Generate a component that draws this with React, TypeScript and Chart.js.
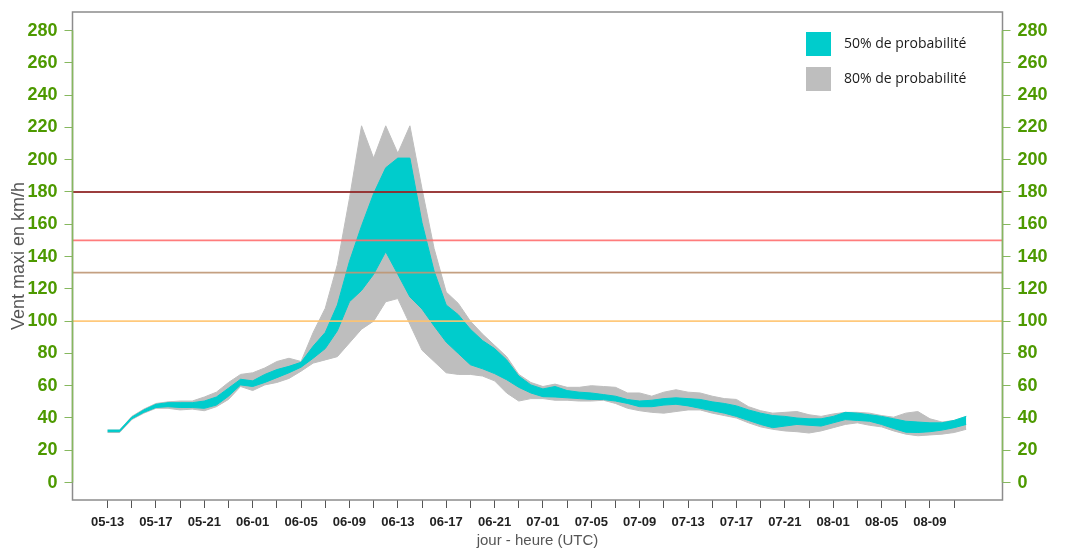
import React, { useEffect, useRef } from 'react';
import { Chart, registerables } from 'chart.js';

Chart.register(...registerables);

// ---- data ----
const X_LABELS = [
  '05-13', '05-17', '05-21', '06-01', '06-05', '06-09', '06-13', '06-17', '06-21',
  '07-01', '07-05', '07-09', '07-13', '07-17', '07-21', '08-01', '08-05', '08-09',
];
const Y_TICKS = [0, 20, 40, 60, 80, 100, 120, 140, 160, 180, 200, 220, 240, 260, 280];

// hourly values, starting at 05-13
const P90 = [
  32.5, 32.5, 41, 45.5, 49, 50, 50.5, 50.5, 53, 56,
  62, 67, 68, 71, 75, 77, 75, 93, 108, 135,
  176, 221, 201, 221, 204, 221, 182, 145, 118, 111,
  100, 92, 85, 78, 67, 62, 59.5, 61, 59, 59,
  60, 59.5, 59, 55.5, 55.5, 53.5, 56, 57.5, 56, 55.5,
  53.5, 52, 51.5, 47, 44.5, 43, 43.5, 44, 42, 41,
  42.5, 43.5, 43.5, 43, 41.5, 40.5, 43, 44, 39.5, 37.5,
  38.5, 41,
];
const P75 = [
  32.5, 32.5, 40.5, 45, 48.5, 49.5, 49.5, 49.5, 50.5, 53,
  58.5, 64, 63, 67, 70, 72, 74.5, 84.5, 93, 110,
  137, 159, 179, 195, 201, 201, 161, 131, 110, 104,
  95, 88, 83, 76, 66, 60.5, 58, 59.5, 57, 56,
  55.5, 54.5, 53.5, 51.4, 50.5, 51, 52, 52.5, 52, 51.5,
  50, 49, 47.5, 45, 43, 41.5, 41, 40, 39.5, 39.5,
  41, 43.5, 43, 42, 41, 39.5, 38, 37.5, 37, 37,
  38.5, 41,
];
const P25 = [
  31.5, 31.5, 39.5, 43.5, 46.5, 47, 46.5, 46.5, 46, 48,
  53.5, 60.5, 59.5, 62, 65, 68, 71.5, 77, 83, 94,
  112, 119, 129, 143, 129, 115, 107.5, 97, 87, 80,
  73, 70.5, 67.5, 63.7, 59, 55.5, 53.2, 53, 52.5, 52,
  51.5, 51.4, 50.5, 49, 47, 47, 48, 48.5, 47.5, 46,
  44.5, 43, 41, 38.5, 36, 34, 35, 36, 35.5, 35,
  37, 39, 38.5, 38, 36, 33.5, 31.2, 31, 31.5, 32.5,
  34, 36,
];
const P10 = [
  31, 31, 39, 43, 46, 46, 45, 45.5, 44.5, 47,
  51.5, 59.5, 57, 60.5, 62, 64.5, 69, 74, 76, 78,
  86.5, 95, 100, 112, 114, 98, 82, 75, 68, 67,
  67, 66, 63, 55.5, 50.5, 52, 52, 51, 51, 50.5,
  50.5, 51, 49, 46, 44.5, 43.5, 43, 44, 45, 45,
  43, 41.5, 40, 37, 34.5, 33, 32, 31.5, 30.7, 32,
  34, 36, 37, 35.5, 34.5, 32, 30, 29, 29.5, 30,
  31, 33,
];
const THRESHOLDS = [180, 150, 130, 100];
const LEGEND_LABELS = ['50% de probabilité', '80% de probabilité'];

// ---- styles ----
const CYAN = '#00cccc';
const GREY = '#bebebe';
const THRESHOLD_COLORS = ['rgba(145,40,40,0.9)', 'rgba(255,110,110,0.9)', 'rgba(190,150,115,0.9)', 'rgba(255,195,110,0.9)'];
const GREEN_TEXT = '#4d9900';
const GREEN_LINE = '#86b85e';
const X_MIN = -2.9;
const X_MAX = 74;
const Y_MIN = -10.8;
const Y_MAX = 291.5;

const toPoints = (arr: number[]) => arr.map((y, i) => ({ x: i, y }));

const framePlugin = {
  id: 'frameAndLegend',
  afterDraw(chart: any) {
    const { ctx, chartArea } = chart;
    const ys = chart.scales.y;
    ctx.save();
    ctx.strokeStyle = '#8c8c8c';
    ctx.lineWidth = 1.5;
    ctx.strokeRect(chartArea.left, chartArea.top, chartArea.right - chartArea.left, chartArea.bottom - chartArea.top);
    const y0 = ys.getPixelForValue(Y_TICKS[0]);
    const y1 = ys.getPixelForValue(Y_TICKS[Y_TICKS.length - 1]);
    ctx.strokeStyle = GREEN_LINE;
    ctx.beginPath();
    ctx.moveTo(chartArea.left, y0);
    ctx.lineTo(chartArea.left, y1);
    ctx.moveTo(chartArea.right, y0);
    ctx.lineTo(chartArea.right, y1);
    ctx.stroke();

    // legend
    const colors = [CYAN, GREY];
    const boxX = 806;
    const boxYs = [32, 67];
    ctx.font = '14px "Open Sans"';
    ctx.textBaseline = 'middle';
    ctx.textAlign = 'left';
    LEGEND_LABELS.forEach((label, i) => {
      ctx.fillStyle = colors[i];
      ctx.fillRect(boxX, boxYs[i], 25, 24);
      ctx.fillStyle = '#1a1a1a';
      ctx.fillText(label, 844, boxYs[i] + 12);
    });
    ctx.restore();
  },
};

export default function App() {
  const canvasRef = useRef<HTMLCanvasElement | null>(null);

  useEffect(() => {
    if (!canvasRef.current) return;
    const bandLine = (color: string) => ({
      borderColor: color,
      borderWidth: 1,
      pointRadius: 0,
      tension: 0,
    });
    const datasets: any[] = [
      { label: 'p75', data: toPoints(P75), ...bandLine(CYAN), backgroundColor: CYAN, fill: '+1', order: 1 },
      { label: 'p25', data: toPoints(P25), ...bandLine(CYAN), backgroundColor: CYAN, fill: false, order: 1 },
      { label: 'p90', data: toPoints(P90), ...bandLine(GREY), backgroundColor: GREY, fill: '+1', order: 2 },
      { label: 'p10', data: toPoints(P10), ...bandLine(GREY), backgroundColor: GREY, fill: false, order: 2 },
      ...THRESHOLDS.map((v, i) => ({
        label: 'seuil ' + v,
        data: [{ x: X_MIN, y: v }, { x: X_MAX, y: v }],
        borderColor: THRESHOLD_COLORS[i],
        borderWidth: 1.8,
        pointRadius: 0,
        fill: false,
        order: 0,
      })),
    ];

    const yTickBuild = (scale: any) => {
      scale.ticks = Y_TICKS.map((v) => ({ value: v }));
    };
    const yFit = (w: number) => (scale: any) => {
      scale.width = w;
      scale.paddingTop = 0;
      scale.paddingBottom = 0;
    };
    const yTicks = {
      color: GREEN_TEXT,
      font: { family: 'Liberation Sans', size: 18, weight: 'bold' },
      padding: 7,
    };
    const yGrid = { drawOnChartArea: false, drawTicks: true, tickLength: 8, color: GREEN_LINE, lineWidth: 1 };

    const chart = new Chart(canvasRef.current, {
      type: 'line',
      data: { datasets },
      options: {
        animation: false,
        responsive: true,
        maintainAspectRatio: false,
        layout: { padding: { top: 12, left: 0, right: 0, bottom: 0 } },
        plugins: { legend: { display: false }, tooltip: { enabled: false } },
        scales: {
          x: {
            type: 'linear',
            min: X_MIN,
            max: X_MAX,
            afterFit: (scale: any) => {
              scale.height = 48;
              scale.paddingLeft = 0;
              scale.paddingRight = 0;
            },
            afterBuildTicks: (scale: any) => {
              const t: any[] = [];
              for (let i = 0; i < X_LABELS.length * 2; i++) t.push({ value: i * 2 });
              scale.ticks = t;
            },
            ticks: {
              autoSkip: false,
              maxRotation: 0,
              minRotation: 0,
              padding: 7,
              color: '#222',
              font: { family: 'Liberation Sans', size: 13, weight: 'bold' },
              callback: (v: any) => (Number(v) % 4 === 0 ? X_LABELS[Number(v) / 4] ?? '' : ''),
            },
            grid: { drawOnChartArea: false, drawTicks: true, tickLength: 8, color: '#555', lineWidth: 1 },
            border: { display: false },
            title: {
              display: true,
              text: 'jour - heure (UTC)',
              color: '#555',
              font: { family: 'Liberation Sans', size: 15, lineHeight: 1 },
              padding: { top: 0, bottom: 0 },
            },
          },
          y: {
            type: 'linear',
            position: 'left',
            min: Y_MIN,
            max: Y_MAX,
            afterFit: yFit(72.5),
            afterBuildTicks: yTickBuild,
            ticks: yTicks,
            grid: yGrid,
            border: { display: false },
            title: {
              display: true,
              text: 'Vent maxi en km/h',
              color: '#555',
              font: { family: 'Liberation Sans', size: 18, lineHeight: 1 },
              padding: { top: 10, bottom: 0 },
            },
          },
          y2: {
            type: 'linear',
            position: 'right',
            min: Y_MIN,
            max: Y_MAX,
            afterFit: yFit(62.5),
            afterBuildTicks: yTickBuild,
            ticks: yTicks,
            grid: yGrid,
            border: { display: false },
          },
        },
      } as any,
      plugins: [framePlugin],
    });
    return () => chart.destroy();
  }, []);

  return (
    <div style={{ position: 'absolute', left: 0, top: 0, width: 1065, height: 548, background: '#fff' }}>
      <canvas ref={canvasRef} />
    </div>
  );
}
